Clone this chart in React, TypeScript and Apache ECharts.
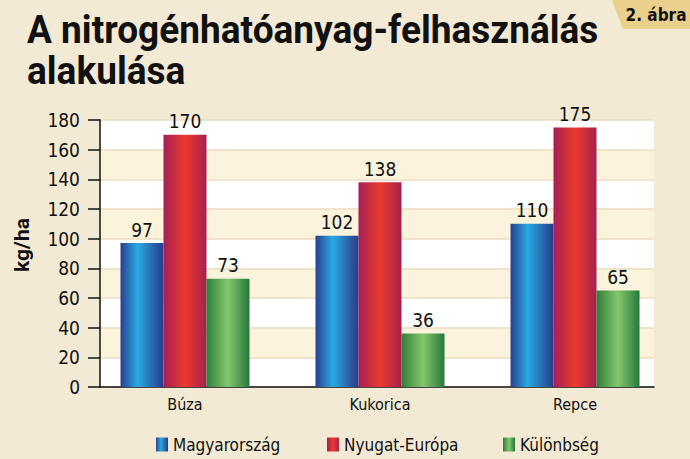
import React, { useEffect, useRef } from "react";
import * as echarts from "echarts";

const categories = ["Búza", "Kukorica", "Repce"];
const seriesNames = ["Magyarország", "Nyugat-Európa", "Különbség"];
const hungary = [97, 102, 110];
const westernEurope = [170, 138, 175];
const difference = [73, 36, 65];
const yMin = 0;
const yMax = 180;
const yInterval = 20;

const titleLines = ["A nitrogénhatóanyag-felhasználás", "alakulása"];
const figureTag = "2. ábra";
const yAxisName = "kg/ha";

const FONT = "'Liberation Sans Narrow', 'DejaVu Sans Condensed', Roboto, sans-serif";

const grad = (stops: [number, string][]) =>
  new echarts.graphic.LinearGradient(
    0,
    0,
    1,
    0,
    stops.map(([offset, color]) => ({ offset, color }))
  );

const colors = [
  grad([
    [0, "#2b3f8f"],
    [0.4, "#28aae2"],
    [1, "#2a3a89"],
  ]),
  grad([
    [0, "#a51f57"],
    [0.5, "#ec3a2c"],
    [1, "#a6204f"],
  ]),
  grad([
    [0, "#2f7f3a"],
    [0.5, "#84c66d"],
    [1, "#25793c"],
  ]),
];

export default function App() {
  const ref = useRef<HTMLDivElement>(null);
  useEffect(() => {
    document.body.style.margin = "0";
    const chart = echarts.init(ref.current!, undefined, { renderer: "svg" });
    const dataSets = [hungary, westernEurope, difference];
    const legendLefts = [151, 322, 498];
    chart.setOption({
      animation: false,
      backgroundColor: "#f3ead5",
      grid: [
        { left: 100, top: 120, width: 554, height: 267 },
        { left: 87.5, top: 120, width: 585, height: 267 },
      ],
      xAxis: [
        {
          gridIndex: 0,
          type: "category",
          data: categories,
          axisLine: { show: true, lineStyle: { color: "#111", width: 1.5 } },
          axisTick: { show: false },
          axisLabel: { show: false },
          splitLine: { show: false },
        },
        {
          gridIndex: 1,
          type: "category",
          data: categories,
          axisLine: { show: false },
          axisTick: { show: false },
          axisLabel: {
            margin: 9,
            fontFamily: FONT,
            fontSize: 16,
            color: "#111",
          },
        },
      ],
      yAxis: [
        {
          gridIndex: 0,
          type: "value",
          min: yMin,
          max: yMax,
          interval: yInterval,
          axisLine: { show: true, lineStyle: { color: "#111", width: 1.5 } },
          axisTick: {
            show: true,
            inside: false,
            length: 12,
            lineStyle: { color: "#111", width: 1.5 },
          },
          axisLabel: {
            margin: 20,
            fontFamily: FONT,
            fontSize: 19,
            color: "#111",
          },
          splitLine: { show: true, lineStyle: { color: "#ecdcc0", width: 1.5 } },
          splitArea: {
            show: true,
            areaStyle: { color: ["#ffffff", "#fbf3dc"] },
          },
        },
        {
          gridIndex: 1,
          type: "value",
          min: yMin,
          max: yMax,
          interval: yInterval,
          show: false,
          splitLine: { show: false },
        },
      ],
      legend: seriesNames.map((name, i) => ({
        data: [name],
        left: legendLefts[i],
        top: 431,
        itemWidth: 12,
        itemHeight: 14,
        itemGap: 8,
        icon: "rect",
        textStyle: { fontFamily: FONT, fontSize: 17, color: "#111" },
      })),
      series: seriesNames.map((name, i) => ({
        name,
        type: "bar",
        xAxisIndex: 1,
        yAxisIndex: 1,
        data: dataSets[i],
        barWidth: 43,
        barGap: "0%",
        itemStyle: { color: colors[i] },
        label: {
          show: true,
          position: "top",
          distance: 4,
          fontFamily: FONT,
          fontSize: 19,
          color: "#111",
        },
      })),
      graphic: [
        {
          type: "text",
          x: 27,
          y: 11,
          scaleX: 0.975,
          style: {
            text: titleLines[0],
            font: "bold 38px Roboto, sans-serif",
            fill: "#111",
          },
        },
        {
          type: "text",
          x: 27,
          y: 52,
          scaleX: 0.975,
          style: {
            text: titleLines[1],
            font: "bold 38px Roboto, sans-serif",
            fill: "#111",
          },
        },
        {
          type: "polygon",
          shape: {
            points: [
              [612, 0],
              [690, 0],
              [690, 29],
              [623, 29],
            ],
          },
          style: { fill: "#ebd08c" },
        },
        {
          type: "text",
          x: 656,
          y: 15,
          style: {
            text: figureTag,
            font: "bold 17px 'Liberation Sans Narrow', 'DejaVu Sans Condensed', Roboto, sans-serif",
            fill: "#111",
            align: "center",
            verticalAlign: "middle",
          },
        },
        {
          type: "text",
          x: 22,
          y: 245,
          rotation: Math.PI / 2,
          style: {
            text: yAxisName,
            font: "bold 21px Roboto, sans-serif",
            fill: "#111",
            align: "center",
            verticalAlign: "middle",
          },
        },
      ],
    });
    return () => chart.dispose();
  }, []);
  return <div ref={ref} style={{ width: 690, height: 459 }} />;
}
